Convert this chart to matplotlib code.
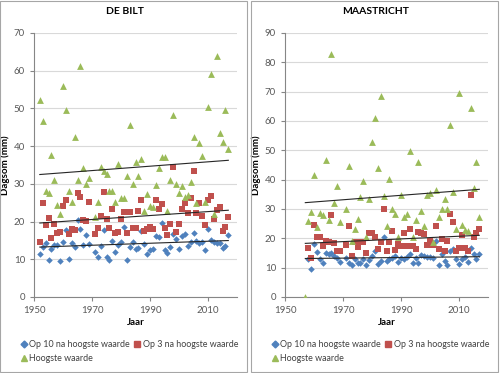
import numpy as np
import matplotlib
matplotlib.use("Agg")
from matplotlib import pyplot as plt
from matplotlib.patches import Rectangle

plt.rcParams['font.family'] = ['Lato', 'DejaVu Sans']

nan = np.nan

# De Bilt, 1952-2017
bilt_years = np.arange(1952, 2018)
bilt_top10 = [11.5, 13.2, 14.4, 9.8, 12.7, 13.7, 13.9, 9.6, 14.6, 17.8,
              10.1, 14.2, 13.3, 20.3, 18.0, 13.9, 16.4, 14.1, nan, 11.8,
              10.7, 13.5, 17.8, 10.5, 9.9, 14.8, 11.9, 13.7, 14.5, 18.5,
              9.8, 13.3, 14.7, 12.8, 12.9, 17.5, 14.0, 11.3, 12.5, 12.6,
              16.1, 15.9, 19.5, 12.4, 11.6, 13.3, 16.6, 15.4, 12.6, 16.2,
              16.7, 13.4, 14.6, 16.9, 14.8, 14.2, 14.6, 12.5, 18.1, 15.1,
              14.7, 14.3, 14.2, 13.1, 13.6, 16.4]
bilt_top3 = [14.6, 24.9, 19.0, 20.9, 15.6, 19.4, 16.9, 17.3, 24.1, 25.7,
             16.6, 17.9, 17.8, 27.5, 26.5, 20.5, 20.1, 25.2, nan, 16.8,
             18.2, 21.5, 27.8, 20.8, 18.4, 23.3, 16.9, 17.2, 20.8, 22.6,
             17.0, 22.5, 18.4, 18.4, 22.9, 25.6, 17.5, 18.1, 18.6, 18.1,
             25.6, 23.3, 24.7, 18.4, 16.4, 19.3, 34.6, 17.2, 19.3, 23.3,
             24.9, 22.3, 26.3, 33.5, 22.4, 24.8, 21.4, 19.1, 25.6, 26.9,
             20.7, 23.1, 23.8, 17.6, 18.6, 21.1]
bilt_max = [52.2, 46.6, 28.2, 27.5, 37.7, 31.0, 24.4, 22.0, 55.9, 49.5,
            28.1, 25.1, 42.5, 31.0, 61.2, 34.1, 30.0, 31.5, nan, 21.1,
            25.1, 34.5, 33.3, 32.7, 28.0, 28.1, 25.2, 35.3, 26.3, 26.2,
            32.0, 45.5, 30.0, 35.8, 32.0, 36.6, 22.9, 27.3, 24.0, 23.9,
            29.6, 34.1, 37.0, 37.1, 22.8, 31.0, 48.2, 29.9, 27.5, 29.5,
            26.4, 27.0, 30.6, 42.3, 24.8, 40.8, 37.4, 25.2, 50.5, 59.0,
            22.1, 64.0, 43.5, 41.0, 49.5, 39.3]

# Maastricht, 1957-2017
maas_years = np.arange(1957, 2018)
maas_top10 = [nan, 13.1, 9.4, 18.2, 15.4, 13.1, 11.5, 15.0, 14.8, 15.1,
              13.9, 13.2, 11.9, nan, 13.3, 11.7, 11.0, 13.1, 11.5, 11.5,
              12.9, 10.8, 12.7, 14.0, 15.6, 11.1, 12.3, 20.6, 12.3, 13.1,
              13.4, 13.9, 11.9, 13.2, 13.1, 13.8, 14.6, 11.7, 13.4, 11.7,
              14.2, 13.9, 13.5, 13.5, 13.3, 19.0, 10.8, 14.8, 12.2, 10.8,
              15.7, 16.4, 13.1, 11.1, 13.1, 13.8, 11.8, 16.7, 14.8, 13.0,
              14.6]
maas_top3 = [nan, 16.6, 13.3, 24.6, 20.3, 20.4, 17.4, 19.1, 18.6, 27.8,
             18.3, 15.7, 15.8, nan, 17.7, 24.2, 14.0, 18.6, 17.2, 18.9,
             18.9, 14.9, 21.8, 21.9, 20.6, 16.3, 18.6, 30.0, 15.7, 18.9,
             22.6, 16.0, 18.0, 17.3, 21.8, 17.5, 23.1, 17.5, 16.5, 22.3,
             21.7, 21.5, 17.7, 19.2, 17.7, 24.2, 16.5, 19.7, 15.7, 19.1,
             28.2, 25.4, 15.8, 16.8, 21.1, 16.8, 15.7, 34.8, 20.6, 21.9,
             23.3]
maas_max = [0.0, 25.9, 28.9, 41.7, 23.9, 28.5, 27.8, 46.8, 26.1, 82.9,
            32.1, 37.8, 25.5, nan, 29.9, 44.6, 19.1, 23.1, 26.5, 34.1,
            39.4, 20.4, 33.3, 52.8, 61.1, 43.9, 68.6, 34.6, 24.2, 40.2,
            30.1, 28.4, 20.5, 34.8, 27.4, 28.4, 49.7, 20.5, 26.3, 45.9,
            29.2, 24.2, 34.8, 35.6, 18.9, 36.5, 27.4, 30.1, 33.4, 29.9,
            58.6, 35.7, 23.1, 69.6, 24.5, 22.9, 22.5, 64.3, 37.2, 45.9,
            27.4]

labels = ['Op 10 na hoogste waarde', 'Op 3 na hoogste waarde', 'Hoogste waarde']
colors = ['#4F81BD', '#C0504D', '#9BBB59']
markers = ['D', 's', '^']
sizes = [11, 20, 24]

W, H = 500, 373
fig = plt.figure(figsize=(5, 3.73), dpi=100)


def panel(x0, title, years, series, ymax):
    fig.patches.append(Rectangle((x0 / W, 1 / H), 247 / W, 371 / H,
                                 transform=fig.transFigure, fill=False,
                                 edgecolor='#a6a6a6', linewidth=0.8))
    ax = fig.add_axes([(x0 + 34) / W, 76 / H, 203 / W, 264 / H])
    for vals, c, m, s in zip(series, colors, markers, sizes):
        vals = np.array(vals, dtype=float)
        ax.scatter(years, vals, marker=m, s=s, color=c, linewidths=0, zorder=3)
    # linear trend lines
    for vals in series:
        vals = np.array(vals, dtype=float)
        ok = ~np.isnan(vals)
        k, b = np.polyfit(years[ok], vals[ok], 1)
        xs = np.array([years[0], years[-1]])
        ax.plot(xs, k * xs + b, color='#262626', linewidth=0.8, zorder=4)

    ax.set_xlim(1950, 2020)
    ax.set_ylim(0, ymax)
    ax.set_xticks([1950, 1970, 1990, 2010])
    ax.set_yticks(np.arange(0, ymax + 1, 10))
    ax.grid(axis='y', color='#d9d9d9', linewidth=0.8)
    ax.set_axisbelow(True)
    for s in ['top', 'right']:
        ax.spines[s].set_visible(False)
    for s in ['left', 'bottom']:
        ax.spines[s].set_color('#868686')
        ax.spines[s].set_linewidth(0.8)
    ax.tick_params(colors='#868686', labelcolor='#595959', labelsize=7,
                   length=3, width=0.8)
    ax.set_xlabel('Jaar', fontsize=7, fontweight='bold', labelpad=2)
    ax.set_ylabel('Dagsom (mm)', fontsize=7, fontweight='bold', labelpad=3)
    fig.text((x0 + 125) / W, 1 - 12 / H, title, ha='center', va='center',
             fontsize=7.5, fontweight='bold')

    h = [plt.Line2D([], [], marker=m, color=c, linestyle='', markersize=ms)
         for m, c, ms in zip(markers, colors, [3.5, 4.5, 5])]
    fig.legend([h[0], h[2], h[1]], [labels[0], labels[2], labels[1]],
               ncol=2, loc='upper left', bbox_to_anchor=((x0 + 16) / W, 1 - 336 / H),
               frameon=False, fontsize=6.4, handlelength=0.7, handletextpad=0.25,
               columnspacing=0.5, labelspacing=0.5, borderpad=0,
               labelcolor='#404040')
    return ax


panel(0, 'DE BILT', bilt_years, [bilt_top10, bilt_top3, bilt_max], 70)
panel(251, 'MAASTRICHT', maas_years, [maas_top10, maas_top3, maas_max], 90)

fig.savefig('out.png', dpi=100)
